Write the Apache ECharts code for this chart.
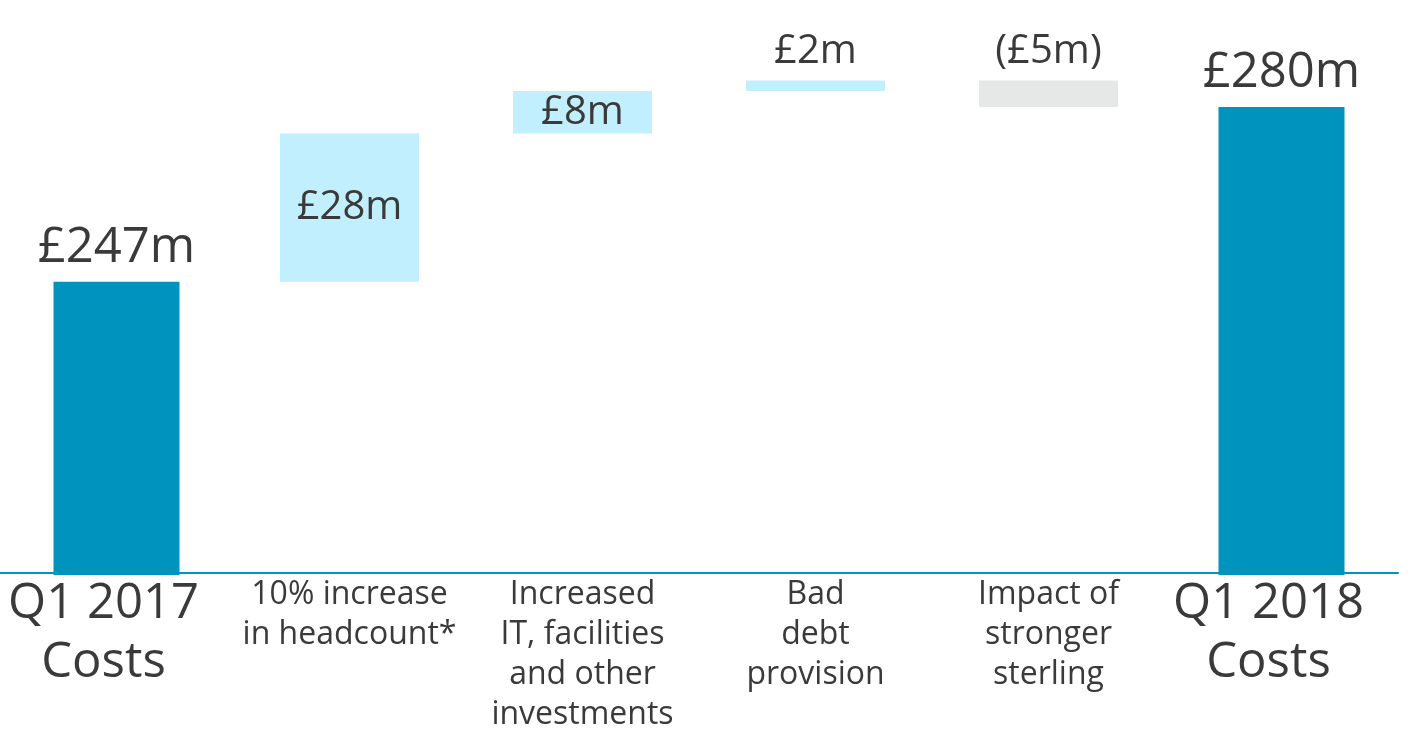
<!DOCTYPE html>
<html>
<head>
<meta charset="utf-8">
<script src="https://cdn.jsdelivr.net/npm/echarts@6/dist/echarts.min.js"></script>
<style>
  html, body { margin: 0; padding: 0; background: #ffffff; overflow: hidden; }
  #chart { width: 1417px; height: 735px; }
</style>
</head>
<body>
<div id="chart"></div>
<script>
// Cost bridge: Q1 2017 costs to Q1 2018 costs (£m)
var categories = [
  'Q1 2017\nCosts',
  '10% increase\nin headcount*',
  'Increased\nIT, facilities\nand other\ninvestments',
  'Bad\ndebt\nprovision',
  'Impact of\nstronger\nsterling',
  'Q1 2018\nCosts'
];
var startTotal = 247;
var deltas = [28, 8, 2, -5];
var endTotal = 280;

var TEAL = '#0093BE';
var UP = '#C1EFFE';
var DOWN = '#E6E7E7';
var TEXT = '#3a3a3a';
var FONT = '"Open Sans", "Noto Sans", sans-serif';

function money(v) {
  return v < 0 ? '(£' + Math.abs(v) + 'm)' : '£' + v + 'm';
}

// Build [index, low, high, kind, value] rows from the running total
var rows = [];
rows.push([0, 0, startTotal, 'total', startTotal]);
var running = startTotal;
deltas.forEach(function (d, i) {
  var lo = Math.min(running, running + d);
  var hi = Math.max(running, running + d);
  rows.push([i + 1, lo, hi, d >= 0 ? 'up' : 'down', d]);
  running += d;
});
rows.push([categories.length - 1, 0, endTotal, 'total', endTotal]);

var chart = echarts.init(document.getElementById('chart'), null, { renderer: 'canvas' });

var axisData = categories.map(function (c, i) {
  var big = (i === 0 || i === categories.length - 1);
  return {
    value: c,
    textStyle: big
      ? { fontSize: 49, lineHeight: 59, padding: [0, 26, 0, 0] }
      : { fontSize: 32, lineHeight: 40 }
  };
});

chart.setOption({
  animation: false,
  grid: { left: 0, right: 19, top: 1, height: 577, containLabel: false },
  xAxis: {
    type: 'category',
    data: axisData,
    axisLine: { onZero: false, lineStyle: { color: TEAL, width: 2 } },
    axisTick: { show: false },
    axisLabel: {
      interval: 0,
      margin: 2,
      color: TEXT,
      fontFamily: FONT,
      align: 'center',
      verticalAlign: 'top'
    }
  },
  yAxis: {
    type: 'value',
    min: 192,
    max: 300,
    show: false,
    splitLine: { show: false }
  },
  series: [{
    type: 'custom',
    data: rows,
    encode: { x: 0, y: [1, 2] },
    renderItem: function (params, api) {
      var idx = api.value(0);
      var lo = api.value(1);
      var hi = api.value(2);
      var row = rows[params.dataIndex];
      var kind = row[3];
      var val = row[4];
      var bottomEdge = params.coordSys.y + params.coordSys.height;
      var pHi = api.coord([idx, hi]);
      var pLo = api.coord([idx, lo]);
      var yLo = Math.min(pLo[1], bottomEdge + 2);
      var w = kind === 'total' ? 126 : 139;
      var fill = kind === 'total' ? TEAL : (kind === 'up' ? UP : DOWN);
      var h = yLo - pHi[1];
      var inside = kind !== 'total' && h > 40;
      return {
        type: 'rect',
        shape: { x: pHi[0] - w / 2, y: pHi[1], width: w, height: h },
        style: { fill: fill },
        textContent: {
          style: {
            text: money(val),
            fontSize: kind === 'total' ? 49 : 40,
            fontFamily: FONT,
            fill: TEXT
          }
        },
        textConfig: {
          position: inside ? 'inside' : 'top',
          distance: 9
        }
      };
    }
  }]
});
</script>
</body>
</html>
